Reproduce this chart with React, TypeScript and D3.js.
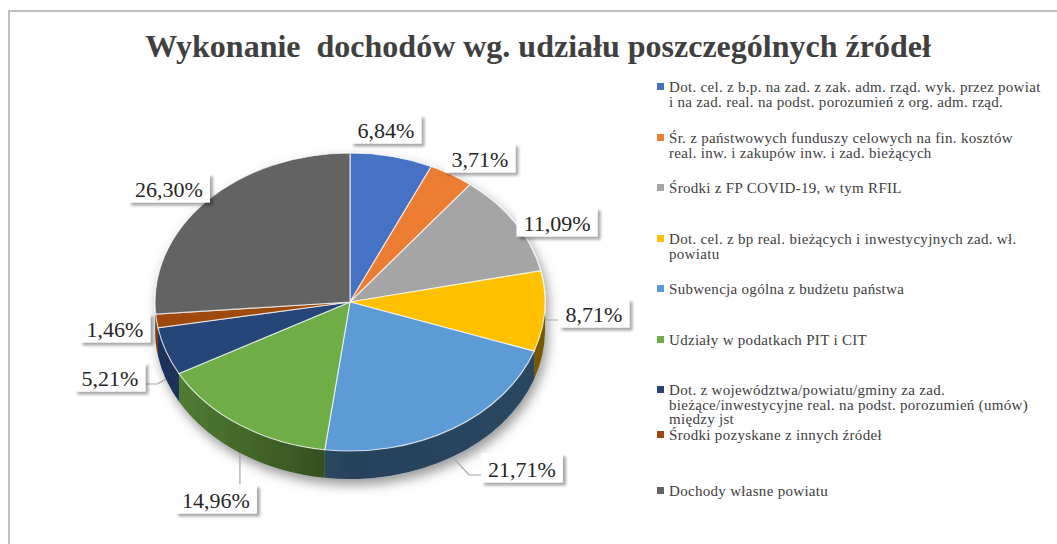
import React, { useRef, useEffect } from 'react';
import * as d3 from 'd3';

const chartTitle = 'Wykonanie  dochodów wg. udziału poszczególnych źródeł';

const sources = [
    'Dot. cel.  z b.p. na zad. z zak. adm. rząd. wyk. przez powiat\ni na zad. real. na podst. porozumień z org. adm. rząd.',
    'Śr. z państwowych funduszy celowych na fin. kosztów\nreal. inw. i zakupów inw. i zad. bieżących',
    'Środki z FP COVID-19, w tym RFIL',
    'Dot. cel. z bp real. bieżących i inwestycyjnych zad. wł.\npowiatu',
    'Subwencja ogólna z budżetu państwa',
    'Udziały w podatkach PIT i CIT',
    'Dot. z województwa/powiatu/gminy za zad.\nbieżące/inwestycyjne real. na podst. porozumień (umów)\nmiędzy jst',
    'Środki pozyskane z innych źródeł',
    'Dochody własne powiatu'
];

const shares = [6.84, 3.71, 11.09, 8.71, 21.71, 14.96, 5.21, 1.46, 26.30];

const sliceColors = ['#4472C4', '#ED7D31', '#A5A5A5', '#FFC000', '#5B9BD5', '#70AD47', '#264478', '#9E480E', '#636363'];

// layout only: where Excel put each data label (offset from pie centre) and its leader
const labelOffsets = [[36, -173], [130, -144], [207, -80], [244, 11], [172, 166], [-134, 197], [-240, 75], [-235, 26], [-181, -114]];
const leaderKinds = ['', '', '', 'side', 'side', 'down', 'side', '', ''];
const legendRowY = [87, 138, 188, 239, 289, 340, 390, 435, 491];

const W = 1057;
const H = 544;
const cx = 350, cy = 302, rx = 195, ry = 149, depth = 28;
const serif = '"Liberation Serif", "Times New Roman", serif';
const fmt = (v: number) => v.toFixed(2).replace('.', ',') + '%';

const App = () => {
    const svgRef = useRef<SVGSVGElement>(null);

    useEffect(() => {
        const svg = d3.select(svgRef.current);
        svg.selectAll('*').remove();
        const defs = svg.append('defs');

        defs.append('filter').attr('id', 'pieShadow')
            .attr('x', '-20%').attr('y', '-20%').attr('width', '140%').attr('height', '140%')
            .append('feDropShadow')
            .attr('dx', 3).attr('dy', 6).attr('stdDeviation', 6)
            .attr('flood-color', '#000').attr('flood-opacity', 0.4);

        defs.append('filter').attr('id', 'boxShadow')
            .attr('x', '-20%').attr('y', '-30%').attr('width', '150%').attr('height', '170%')
            .append('feDropShadow')
            .attr('dx', 3).attr('dy', 3).attr('stdDeviation', 1.8)
            .attr('flood-color', '#000').attr('flood-opacity', 0.35);

        // chart area frame
        svg.append('path')
            .attr('d', `M9,${H} V11 H${W}`)
            .attr('fill', 'none')
            .attr('stroke', '#BFBFBF')
            .attr('stroke-width', 2);

        svg.append('text')
            .attr('x', 538)
            .attr('y', 57)
            .attr('text-anchor', 'middle')
            .style('font-family', serif)
            .style('font-size', '32px')
            .style('font-weight', 'bold')
            .style('fill', '#404040')
            .style('white-space', 'pre')
            .text(chartTitle);

        const arcs = d3.pie<number>().sort(null).value(d => d)(shares);
        const pt = (a: number, dy = 0) => [cx + rx * Math.sin(a), cy - ry * Math.cos(a) + dy];

        sliceColors.forEach((c, i) => {
            const grad = defs.append('linearGradient')
                .attr('id', `wall-${i}`)
                .attr('gradientUnits', 'userSpaceOnUse')
                .attr('x1', cx - rx).attr('x2', cx + rx)
                .attr('y1', 0).attr('y2', 0);
            grad.append('stop').attr('offset', '0%').attr('stop-color', d3.color(c)!.darker(0.8).formatHex());
            grad.append('stop').attr('offset', '50%').attr('stop-color', d3.color(c)!.darker(2.4).formatHex());
            grad.append('stop').attr('offset', '100%').attr('stop-color', d3.color(c)!.darker(2.2).formatHex());
        });

        const pieG = svg.append('g').attr('filter', 'url(#pieShadow)');

        // outer walls, only the front half is visible
        arcs.forEach((a, i) => {
            const s = Math.max(a.startAngle, Math.PI / 2);
            const e = Math.min(a.endAngle, Math.PI * 1.5);
            if (e <= s) return;
            const [x0, y0] = pt(s);
            const [x1, y1] = pt(e);
            pieG.append('path')
                .attr('d', `M${x0},${y0} A${rx},${ry} 0 0 1 ${x1},${y1} L${x1},${y1 + depth} A${rx},${ry} 0 0 0 ${x0},${y0 + depth} Z`)
                .attr('fill', `url(#wall-${i})`);
        });

        const arc = d3.arc<d3.PieArcDatum<number>>().innerRadius(0).outerRadius(rx);
        pieG.append('g')
            .attr('transform', `translate(${cx},${cy}) scale(1,${ry / rx})`)
            .selectAll('path')
            .data(arcs)
            .enter()
            .append('path')
            .attr('d', arc)
            .attr('fill', (d, i) => sliceColors[i])
            .attr('stroke', 'rgba(255,255,255,0.7)')
            .attr('stroke-width', 1.2)
            .attr('vector-effect', 'non-scaling-stroke');

        // data labels
        const labelG = svg.append('g');
        arcs.forEach((a, i) => {
            const lx = cx + labelOffsets[i][0];
            const ly = cy + labelOffsets[i][1];
            const base = ly + 8.5;
            const g = labelG.append('g');
            const box = g.append('rect');
            const txt = g.append('text')
                .attr('x', lx)
                .attr('y', base)
                .attr('text-anchor', 'middle')
                .style('font-family', serif)
                .style('font-size', '22px')
                .style('fill', '#262626')
                .text(fmt(shares[i]));
            const tw = (txt.node() as SVGTextElement).getComputedTextLength();
            const bw = tw + 14;
            const bx = lx - bw / 2;
            box.attr('x', bx).attr('y', base - 23).attr('width', bw).attr('height', 29)
                .attr('fill', '#fff')
                .attr('filter', 'url(#boxShadow)');

            const kind = leaderKinds[i];
            if (!kind) return;
            const m = (a.startAngle + a.endAngle) / 2;
            const drop = depth * Math.min(1, Math.max(0, -Math.cos(m) * 3));
            const [sx, sy] = pt(m, drop);
            let d = '';
            if (kind === 'down') {
                d = `M${sx},${sy} V${base - 23}`;
            } else {
                const edge = lx > cx ? bx : bx + bw;
                const hy = base - 1.5;
                const ex = lx > cx ? edge - 12 : edge + 12;
                d = `M${sx},${sy} L${ex},${hy} H${edge}`;
            }
            labelG.insert('path', ':first-child')
                .attr('d', d)
                .attr('fill', 'none')
                .attr('stroke', '#A6A6A6')
                .attr('stroke-width', 1.2);
        });

        // legend
        const legend = svg.append('g');
        sources.forEach((label, i) => {
            const y = legendRowY[i];
            legend.append('rect')
                .attr('x', 657).attr('y', y - 4)
                .attr('width', 7).attr('height', 7)
                .attr('fill', sliceColors[i]);
            const t = legend.append('text')
                .attr('x', 669)
                .attr('y', y + 5)
                .style('font-family', serif)
                .style('font-size', '15px')
                .style('letter-spacing', '0.3px')
                .style('fill', '#404040');
            label.split('\n').forEach((line, j) => {
                t.append('tspan').attr('x', 669).attr('dy', j === 0 ? 0 : 14.5).text(line);
            });
        });
    }, []);

    return (
        <svg
            ref={svgRef}
            width={W}
            height={H}
            style={{ position: 'absolute', left: 0, top: 0, background: '#fff' }}
        />
    );
};

export default App;
